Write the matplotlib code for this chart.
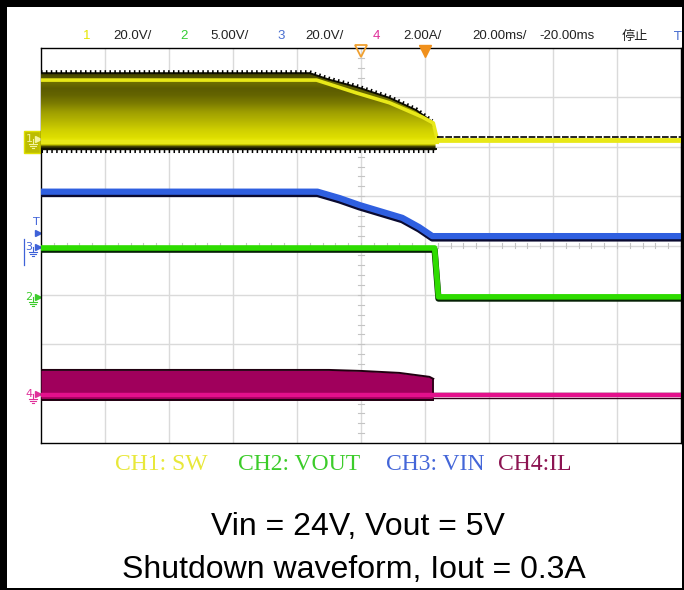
import numpy as np
import matplotlib
matplotlib.use('Agg')
import matplotlib.pyplot as plt
from matplotlib.colors import LinearSegmentedColormap
from matplotlib.patches import Polygon, Rectangle

# ------------------------------------------------------------------ data
# time in ms (screen centre = -20 ms, 20 ms/div), level in divisions from screen bottom
t_sw_edge = [-120, -36, -30, -21.4, -11.1, -2.7, 2.3, 3.3]
sw_edge = [7.49, 7.49, 7.36, 7.21, 6.99, 6.74, 6.50, 6.30]      # CH1 upper envelope
t_sw = [-120, -33.9, -21.4, -11.1, -0.8, 2.6, 3.9, 80]
sw_line = [7.35, 7.35, 7.09, 6.89, 6.60, 6.48, 6.13, 6.13]      # CH1 dense trace
sw_low = 6.10
sw_floor = 5.93

t_vin = [-120, -33.6, -26.7, -20.5, -13.3, -7.1, -1.8, 2.3, 80]
vin = [5.09, 5.09, 4.96, 4.82, 4.68, 4.56, 4.37, 4.19, 4.19]    # CH3

t_vout = [-120, 3.0, 4.2, 80]
vout = [3.95, 3.95, 2.96, 2.96]                                 # CH2

t_il = [-120, -30, -20, -8, 1.4, 2.6]
il_top = [1.48, 1.48, 1.46, 1.42, 1.34, 1.30]                   # CH4 envelope
il_low = 0.97
il_floor = 0.87

hdr_text = ['1', '20.0V/', '2', '5.00V/', '3', '20.0V/', '4', '2.00A/',
            '20.00ms/', '-20.00ms', '停止']
hdr_x = [83, 113, 180, 210, 277, 305, 373, 403, 472, 539, 622]
hdr_col = ['#e6e600', '#222222', '#33cc33', '#222222', '#4a6fd0', '#222222',
           '#e0309a', '#222222', '#222222', '#222222', '#222222']

leg_text = ['CH1: SW', 'CH2: VOUT', 'CH3: VIN', 'CH4:IL']
leg_x = [115, 238, 386, 498]
leg_col = ['#e8e83a', '#3ccc2a', '#4466d8', '#8c1452']

YEL = '#e8e818'
BLUE = '#2f5fe0'
GREEN = '#2edc00'
PINK = '#e4108c'
MAROON = '#a0005c'

W, H = 684, 590
fig = plt.figure(figsize=(W / 100, H / 100), dpi=100)
fig.patch.set_facecolor('white')

# overlay in pixel coordinates for frame, header and channel markers
ov = fig.add_axes([0, 0, 1, 1])
ov.set_xlim(0, W)
ov.set_ylim(H, 0)
ov.axis('off')

ax = fig.add_axes([41 / W, 1 - 443 / H, (681 - 41) / W, (443 - 48) / H])
ax.set_facecolor('white')

# grid
for t in range(-100, 80, 20):
    ax.axvline(t, color='#dadada', lw=1, zorder=1)
for d in range(1, 8):
    ax.axhline(d, color='#dadada', lw=1, zorder=1)
for v in np.arange(0, 8.01, 0.2):
    ax.plot([-20.9, -19.1], [v, v], color='#c4c4c4', lw=0.8, zorder=1)
for t in np.arange(-120, 80.1, 4):
    ax.plot([t, t], [3.94, 4.06], color='#c4c4c4', lw=0.8, zorder=1)

# CH1 switching node: persistence band
sw_cmap = LinearSegmentedColormap.from_list('sw', [
    (0.0, '#1a1a00'), (0.06, '#303000'), (0.09, '#d8d800'), (0.118, '#f0f010'),
    (0.17, '#dede00'), (0.26, '#d0d000'), (0.36, '#b8b800'), (0.47, '#a0a000'),
    (0.58, '#7c7c00'), (0.68, '#646400'), (0.76, '#5c5c00'), (0.83, '#6e6e00'),
    (0.91, '#4a4a00'), (1.0, '#2a2a00')])
grad = np.linspace(5.9, 7.6, 256).reshape(-1, 1)
im = ax.imshow(grad, extent=(-120, 80, 5.9, 7.6), origin='lower', aspect='auto',
               cmap=sw_cmap, vmin=5.9, vmax=7.6, zorder=3)
band = Polygon(np.column_stack([t_sw_edge + [t_sw_edge[-1], -120],
                                sw_edge + [sw_floor, sw_floor]]),
               closed=True, facecolor='none', edgecolor='none', transform=ax.transData)
ax.add_patch(band)
im.set_clip_path(band)
ax.plot(t_sw_edge, sw_edge, color='#111100', lw=1.4, zorder=4)
ax.plot(t_sw_edge[:-1], np.array(sw_edge[:-1]) + 0.03, color='black', lw=2.2,
        ls=(0, (0.5, 1.1)), zorder=4)
ax.plot([-120, t_sw_edge[-1]], [sw_floor + 0.02] * 2, color='#111100', lw=1.4, zorder=4)
ax.plot([-120, t_sw_edge[-1]], [sw_floor - 0.02] * 2, color='black', lw=2.2,
        ls=(0, (0.5, 1.1)), zorder=4)
ax.plot(t_sw, sw_line, color=YEL, lw=2.6, zorder=5)
ax.plot([-120, t_sw[-2]], [sw_low, sw_low], color=YEL, lw=3, zorder=5)
ax.plot(t_sw[-2:], np.array(sw_line[-2:]) + 0.06, color='black', lw=1.2,
        ls=(0, (4, 1)), zorder=5)
ax.plot(t_sw[-2:], sw_line[-2:], color=YEL, lw=3.4, zorder=5)

# CH3 input voltage
ax.plot(t_vin, np.array(vin) - 0.04, color='#0a0a30', lw=5, zorder=5)
ax.plot(t_vin, vin, color=BLUE, lw=4.5, zorder=6)

# CH2 output voltage
ax.plot(t_vout, np.array(vout) - 0.035, color='#052005', lw=4.5, zorder=5)
ax.plot(t_vout, vout, color=GREEN, lw=4, zorder=6)

# CH4 inductor current
ax.fill_between(t_il, il_top, il_floor, color=MAROON, lw=0, zorder=4)
ax.plot(t_il, il_top, color='#200010', lw=1.4, zorder=5)
ax.plot(t_il[-1:] * 2, [il_top[-1], il_low], color='#200010', lw=1.2, zorder=5)
ax.plot([-120, t_il[-1]], [il_floor, il_floor], color='#200010', lw=1.4, zorder=5)
ax.plot([t_il[-1], 80], [il_low + 0.05] * 2, color='#300018', lw=1, zorder=5)
ax.plot([t_il[-1], 80], [il_low - 0.05] * 2, color='#300018', lw=1, zorder=5)
ax.plot([-120, 80], [il_low, il_low], color=PINK, lw=3.2, zorder=6)

# trigger / delay markers
ax.plot([-20], [7.93], marker='v', ms=8, mfc='none', mec='#f0a030', mew=1.3,
        clip_on=False, zorder=8)
ax.plot([0], [7.93], marker='v', ms=8, color='#f0901c', clip_on=False, zorder=8)

ax.set_xlim(-120, 80)
ax.set_ylim(0, 8)
ax.set_xticks([])
ax.set_yticks([])
for s in ax.spines.values():
    s.set_color('black')
    s.set_linewidth(1)

# header line
for txt, x, c in zip(hdr_text, hdr_x, hdr_col):
    fam = ['Noto Sans CJK SC', 'DejaVu Sans'] if txt == '停止' else \
        ['Liberation Sans Narrow', 'Liberation Sans']
    ov.text(x, 36, txt, color=c, fontsize=9.5, ha='left', va='center', family=fam)
ov.text(674, 36, 'T', color='#4a6fd0', fontsize=9, ha='left', va='center')

# channel ground markers on the left
def ground(y, label, color, boxed=False):
    if boxed:
        ov.add_patch(Rectangle((24, y - 11), 16, 22, facecolor='#bcbc00',
                               edgecolor='#e0e000', lw=1, zorder=3))
        tc = '#f4f4a0'
    else:
        tc = color
    ov.text(29, y - 3, label, color=tc, fontsize=8, ha='center', va='center', zorder=4)
    ov.plot([38], [y - 3], marker='>', ms=5, color=tc, zorder=4)
    ov.plot([33, 33], [y - 3, y + 2], color=tc, lw=0.8, zorder=4)
    for k, w in enumerate([4, 2.6, 1.2]):
        ov.plot([33 - w, 33 + w], [y + 2 + 2 * k, y + 2 + 2 * k], color=tc, lw=0.8, zorder=4)

ground(142, '1', YEL, boxed=True)
ground(250, '3', '#3f62d8')
ov.plot([24, 24], [239, 265], color='#3f62d8', lw=0.9)
ground(300, '2', '#3ccc2a')
ground(397, '4', '#e0309a')
ov.text(36, 222, 'T', color='#3f62d8', fontsize=8, ha='center', va='center')
ov.plot([38], [233], marker='>', ms=5, color='#3f62d8')

# channel legend
for txt, x, c in zip(leg_text, leg_x, leg_col):
    ov.text(x, 465, txt, color=c, fontsize=17, ha='left', va='center',
            family=['Liberation Serif', 'DejaVu Serif'])

ov.text(358, 527, 'Vin = 24V, Vout = 5V', fontsize=23, ha='center', va='center',
        family=['Liberation Sans', 'DejaVu Sans'])
ov.text(354, 570, 'Shutdown waveform, Iout = 0.3A', fontsize=23, ha='center',
        va='center', family=['Liberation Sans', 'DejaVu Sans'])

# black photo frame
for r in [(0, 0, 7, H), (0, 0, W, 7), (W - 2, 0, 2, H), (0, H - 2, W, 2)]:
    ov.add_patch(Rectangle((r[0], r[1]), r[2], r[3], facecolor='black',
                           edgecolor='none', zorder=10))

fig.savefig('out.png', dpi=100)
